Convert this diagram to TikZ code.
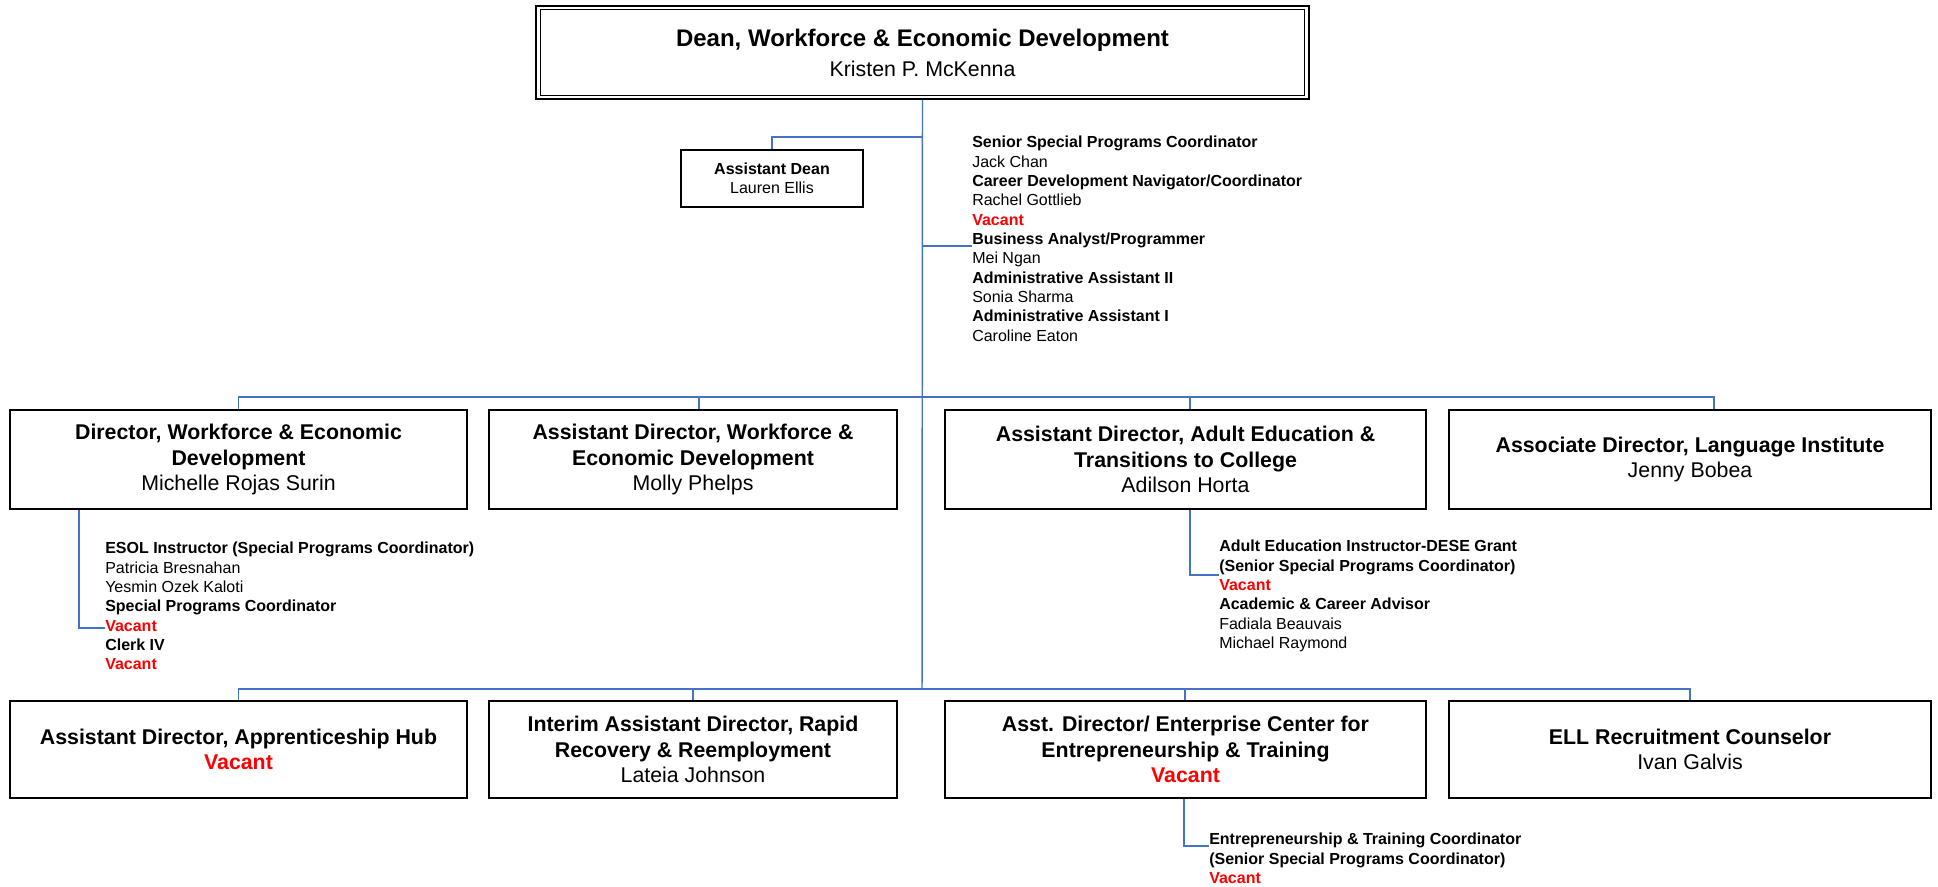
\documentclass[tikz,border=0pt]{standalone}
\usepackage{fontspec}
\setmainfont{Liberation Sans}
\usetikzlibrary{calc}
\definecolor{connblue}{HTML}{4472C4}
\definecolor{vacred}{HTML}{FF0000}
\newcommand{\vac}{\textcolor{vacred}{\textbf{Vacant}}}
\begin{document}
\begin{tikzpicture}[x=0.75pt,y=-0.75pt,
  conn/.style={draw=connblue, line width=1.1pt},
  box/.style={draw=black, line width=1.4pt, align=center, inner sep=0pt, text=black},
  rowbox/.style={box, font=\fontsize{16}{19.1}\selectfont},
  rowone/.style={rowbox, minimum height=74.25pt},
  rowtwo/.style={rowbox, minimum height=72.75pt},
  listtxt/.style={anchor=north west, align=left, inner sep=0pt, text=black, font=\fontsize{12}{14.5}\selectfont},
]
\fill[white] (0,0) rectangle (1938,886);
\useasboundingbox (0,0) rectangle (1938,886);

% Dean
\node[box, line width=1.8pt, minimum width=579.75pt, minimum height=69.75pt, font=\fontsize{16}{22.5}\selectfont] (dean) at (922.5,52.5)
  {{\fontsize{18}{22.5}\selectfont\bfseries Dean, Workforce \& Economic Development}\\Kristen P. McKenna};
\draw[line width=0.9pt] ($(dean.north west)+(5.5,5)$) rectangle ($(dean.south east)+(-5.5,-5)$);

% Assistant Dean
\node[box, minimum width=136.5pt, minimum height=42.75pt, font=\fontsize{12}{14.25}\selectfont] (adean) at (772,178.5)
  {\textbf{Assistant Dean}\\Lauren Ellis};

% Staff list under dean
\node[listtxt] (lstA) at (972,136)
  {\textbf{Senior Special Programs Coordinator}\\Jack Chan\\\textbf{Career Development Navigator/Coordinator}\\Rachel Gottlieb\\\vac\\\textbf{Business Analyst/Programmer}\\Mei Ngan\\\textbf{Administrative Assistant II}\\Sonia Sharma\\\textbf{Administrative Assistant I}\\Caroline Eaton};

% Row 1
\node[rowone, minimum width=342.75pt] (r1a) at (238.5,459.5)
  {\textbf{Director, Workforce \& Economic}\\\textbf{Development}\\Michelle Rojas Surin};
\node[rowone, minimum width=306pt] (r1b) at (693,459.5)
  {\textbf{Assistant Director, Workforce \&}\\\textbf{Economic Development}\\Molly Phelps};
\node[rowone, minimum width=360.75pt] (r1c) at (1185.5,459.5)
  {\textbf{Assistant Director, Adult Education \&}\\\textbf{Transitions to College}\\Adilson Horta};
\node[rowone, minimum width=361.5pt] (r1d) at (1690,459.5)
  {\textbf{Associate Director, Language Institute}\\Jenny Bobea};

% Row 2
\node[rowtwo, minimum width=342.75pt] (r2a) at (238.5,749.5)
  {\textbf{Assistant Director, Apprenticeship Hub}\\\vac};
\node[rowtwo, minimum width=306pt] (r2b) at (693,749.5)
  {\textbf{Interim Assistant Director, Rapid}\\\textbf{Recovery \& Reemployment}\\Lateia Johnson};
\node[rowtwo, minimum width=360.75pt] (r2c) at (1185.5,749.5)
  {\textbf{Asst. Director/ Enterprise Center for}\\\textbf{Entrepreneurship \& Training}\\\vac};
\node[rowtwo, minimum width=361.5pt] (r2d) at (1690,749.5)
  {\textbf{ELL Recruitment Counselor}\\Ivan Galvis};

% Sub lists
\node[listtxt] (lstB) at (105,542)
  {\textbf{ESOL Instructor (Special Programs Coordinator)}\\Patricia Bresnahan\\Yesmin Ozek Kaloti\\\textbf{Special Programs Coordinator}\\\vac\\\textbf{Clerk IV}\\\vac};
\node[listtxt] (lstC) at (1219,540)
  {\textbf{Adult Education Instructor-DESE Grant}\\\textbf{(Senior Special Programs Coordinator)}\\\vac\\\textbf{Academic \& Career Advisor}\\Fadiala Beauvais\\Michael Raymond};
\node[listtxt] (lstD) at (1209,833)
  {\textbf{Entrepreneurship \& Training Coordinator}\\\textbf{(Senior Special Programs Coordinator)}\\\vac};

% Junction coordinates
\coordinate (busU) at (922,397);
\coordinate (busL) at (922,689);
\coordinate (jAD) at (922,137);
\coordinate (jA) at (922,246);
\coordinate (jB) at (105,628);
\coordinate (jC) at (1219,575);
\coordinate (jD) at (1209,846);

% Connectors
\draw[conn] (dean.south) -- (busL);
\draw[conn] (jAD) -| (adean.north);
\draw[conn] (jA) -- (jA -| lstA.west);
\draw[conn] (r1a.north) |- (busU) -| ($(r1d.north)+(24,0)$);
\draw[conn] ($(r1b.north)+(6,0)$) -- ++(0,-13);
\draw[conn] ($(r1c.north)+(4.5,0)$) -- ++(0,-13);
\draw[conn] (r2a.north) |- (busL) -| (r2d.north);
\draw[conn] (r2b.north) -- ++(0,-12);
\draw[conn] ($(r2c.north)+(-0.5,0)$) -- ++(0,-12);
\draw[conn] ($(r1a.south west)+(70,0)$) |- (jB);
\draw[conn] ($(r1c.south)+(4.5,0)$) |- (jC);
\draw[conn] ($(r2c.south)+(-1.5,0)$) |- (jD);
\end{tikzpicture}
\end{document}
